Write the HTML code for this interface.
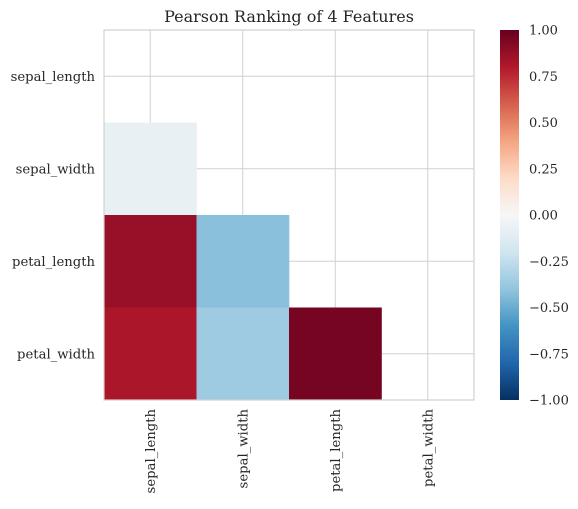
<!DOCTYPE html>
<html><head><meta charset="utf-8"><style>
html,body{margin:0;padding:0;background:#fff;}
svg text{font-family:"DejaVu Serif","Liberation Serif",serif;fill:#262626;}
</style></head><body>
<svg id="c" width="578" height="504" xmlns="http://www.w3.org/2000/svg"></svg>
<script>
const features = ["sepal_length","sepal_width","petal_length","petal_width"];
const rowIdx = [1,2,2,3,3,3];
const colIdx = [0,0,1,0,1,2];
const corrValues = [-0.08,0.87,-0.42,0.82,-0.36,0.96];
const cbarTicks = [1.00,0.75,0.50,0.25,0.00,-0.25,-0.50,-0.75,-1.00];

const NS="http://www.w3.org/2000/svg";
const svg=document.getElementById('c');
function mk(t,a,p){const e=document.createElementNS(NS,t);for(const k in a)e.setAttribute(k,a[k]);(p||svg).appendChild(e);return e;}
const L=104,R=474,T=30,B=400,n=features.length;
const cw=(R-L)/n, ch=(B-T)/n;
const xc=i=>L+cw*(i+0.5), yc=i=>T+ch*(i+0.5);
const stops=["#053061","#2166ac","#4393c3","#92c5de","#d1e5f0","#f7f7f7","#fddbc7","#f4a582","#d6604d","#b2182b","#67001f"];
function hx(h){return [1,3,5].map(i=>parseInt(h.substr(i,2),16));}
function color(v){let t=(v+1)/2*(stops.length-1);let i=Math.min(Math.floor(t),stops.length-2);let f=t-i;const a=hx(stops[i]),b=hx(stops[i+1]);return "rgb("+a.map((x,k)=>Math.round(x+(b[k]-x)*f)).join(",")+")";}
const cbY=v=>T+(1-v)/2*(B-T);

let t=mk('text',{x:289,y:22,'text-anchor':'middle','font-size':16});t.textContent="Pearson Ranking of 4 Features";



for(let i=0;i<n;i++){
 let g=mk('line',{x1:xc(i),x2:xc(i),y1:T,y2:B,stroke:'#d0d0d0','stroke-width':1});
 
 
 let h=mk('line',{x1:L,x2:R,y1:yc(i),y2:yc(i),stroke:'#d0d0d0','stroke-width':1});
 
 
}
for(let k=0;k<corrValues.length;k++){
 let r=mk('rect',{x:L+cw*colIdx[k],y:T+ch*rowIdx[k],width:cw+0.3,height:ch+0.3,fill:color(corrValues[k])});
 
 
}
let fr=mk('rect',{x:L,y:T,width:R-L,height:B-T,fill:'none',stroke:'#d0d0d0','stroke-width':1.2});


for(let i=0;i<n;i++){
 let a=mk('text',{x:95,y:yc(i)+4.5,'text-anchor':'end','font-size':13.2});a.textContent=features[i];
 
 
 let b=mk('text',{x:0,y:0,'text-anchor':'end','font-size':13.2,transform:`translate(${xc(i)+4.5},409) rotate(-90)`});b.textContent=features[i];
 
 
}
const defs=mk('defs',{});const lg=mk('linearGradient',{id:'g',x1:0,y1:1,x2:0,y2:0},defs);
stops.forEach((s,i)=>mk('stop',{offset:i/(stops.length-1),'stop-color':s},lg));
let cb=mk('rect',{x:500,y:T,width:19,height:B-T,fill:'url(#g)'});


cbarTicks.forEach(v=>{
 let l=mk('text',{x:529,y:cbY(v)+4.5,'font-size':13});l.textContent=v.toFixed(2).replace('-','−');
 
 
});
</script>
</body></html>
